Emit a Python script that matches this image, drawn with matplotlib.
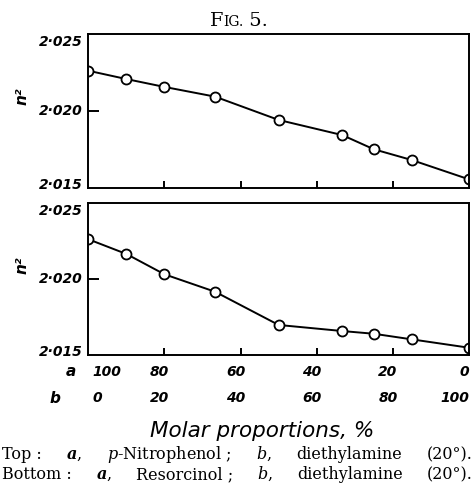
import matplotlib
matplotlib.use("Agg")
import matplotlib.pyplot as plt
from matplotlib.transforms import offset_copy

# ---- data ----
b_pct_top = [0, 10, 20, 33.3, 50, 66.7, 75, 85, 100]
n2_top = [2.02262, 2.02208, 2.02157, 2.02094, 2.01943, 2.01845, 2.01753, 2.01683, 2.01558]

b_pct_bottom = [0, 10, 20, 33.3, 50, 66.7, 75, 85, 100]
n2_bottom = [2.02263, 2.02166, 2.02032, 2.01917, 2.01698, 2.01658, 2.01640, 2.01603, 2.01548]

x_ticks_b = [0, 20, 40, 60, 80, 100]
a_labels = ['100', '80', '60', '40', '20', '0']
b_labels = ['0', '20', '40', '60', '80', '100']
y_tick_vals = [2.015, 2.020, 2.025]
y_tick_labels = ['2\u00b7015', '2\u00b7020', '2\u00b7025']

title_parts = ['F', 'IG.', ' 5.']
caption_top = ['Top :', r'$\mathbf{a}$,', r'$\mathit{p}$-Nitrophenol ;', r'$\mathit{b}$,',
               'diethylamine', '(20°).']
caption_bottom = ['Bottom :', r'$\mathbf{a}$,', 'Resorcinol ;', r'$\mathit{b}$,',
                  'diethylamine', '(20°).']
xlabel = 'Molar proportions, %'
ylabel = 'n\u00b2'

plt.rcParams['mathtext.fontset'] = 'custom'
plt.rcParams['mathtext.rm'] = 'DejaVu Serif'
plt.rcParams['mathtext.it'] = 'DejaVu Serif:italic'
plt.rcParams['mathtext.bf'] = 'DejaVu Serif:italic:bold'

W, H = 472, 486
fig = plt.figure(figsize=(W / 100, H / 100), dpi=100)


def fx(px):
    return px / W


def fy(py):
    return 1 - py / H


hand = dict(family='DejaVu Sans', weight='bold', style='italic')

panels = [
    (34.0, 188.3, b_pct_top, n2_top, 96),
    (203.3, 355.0, b_pct_bottom, n2_bottom, 265),
]
axes = []
for top, bot, xs, ys, ylab_y in panels:
    ax = fig.add_axes([fx(88.3), fy(bot), (469 - 88.3) / W, (bot - top) / H])
    ax.plot(xs, ys, '-', color='black', lw=1.4, marker='o', ms=7.2,
            mfc='white', mec='black', mew=1.3)
    ax.set_xlim(x_ticks_b[0], x_ticks_b[-1])
    ax.set_ylim(y_tick_vals[0], y_tick_vals[-1])
    for s in ax.spines.values():
        s.set_linewidth(1.4)
        s.set_zorder(3)
    ax.set_xticks(x_ticks_b[1:-1])
    ax.set_xticklabels([])
    ax.set_yticks(y_tick_vals[1:-1])
    ax.set_yticklabels([])
    ax.tick_params(axis='x', direction='in', length=5, width=1.4)
    ax.tick_params(axis='y', direction='in', length=8, width=1.4)
    for val, lab in zip(y_tick_vals, y_tick_labels):
        if val == y_tick_vals[-1]:
            dy = -8
        elif val == y_tick_vals[0]:
            dy = 3
        else:
            dy = 0
        tr = offset_copy(ax.get_yaxis_transform(), fig=fig, x=-6, y=dy, units='dots')
        ax.text(0, val, lab, transform=tr, ha='right', va='center', fontsize=10, **hand)
    fig.text(fx(22), fy(ylab_y), ylabel, rotation=90, ha='center', va='center',
             fontsize=11, **hand)
    axes.append(ax)

axb = axes[1]
for row, (labels, dy) in enumerate([(a_labels, -16.7), (b_labels, -43)]):
    for i, (xv, lab) in enumerate(zip(x_ticks_b, labels)):
        if i == 0:
            ha, dx = 'left', 4
        elif i == len(x_ticks_b) - 1:
            ha, dx = 'right', 0
        else:
            ha, dx = 'center', -5
        tr = offset_copy(axb.get_xaxis_transform(), fig=fig, x=dx, y=dy, units='dots')
        axb.text(xv, 0, lab, transform=tr, ha=ha, va='center', fontsize=10, **hand)

fig.text(fx(70.5), fy(371.7), 'a', ha='center', va='center', fontsize=11, **hand)
fig.text(fx(55), fy(398), 'b', ha='center', va='center', fontsize=11, **hand)

fig.text(fx(262), fy(431), xlabel, ha='center', va='center', fontsize=15.5,
         family='DejaVu Sans', style='italic')

fig.canvas.draw()
renderer = fig.canvas.get_renderer()

# caption: word groups justified across the line, like the wide original type
line_specs = [(caption_top, 2, 473, 459), (caption_bottom, 2, 473, 479)]
for words, x0, x1, base in line_specs:
    ts = [fig.text(0, fy(base), w_, ha='left', va='baseline', fontsize=11.5,
                   family='DejaVu Serif') for w_ in words]
    ws = [t.get_window_extent(renderer).width for t in ts]
    gap = (x1 - x0 - sum(ws)) / (len(ws) - 1)
    gap = max(gap, 4)
    x = x0
    for t, w_ in zip(ts, ws):
        t.set_x(fx(x))
        x += w_ + gap

# title in small capitals
sizes = [14, 10, 14]
pieces = []
for p, s in zip(title_parts, sizes):
    t = fig.text(0, fy(26), p, ha='left', va='baseline', fontsize=s, family='DejaVu Serif')
    pieces.append(t)
widths = [t.get_window_extent(renderer).width for t in pieces]
x = 239 - sum(widths) / 2
for t, w in zip(pieces, widths):
    t.set_x(fx(x))
    x += w

fig.savefig('out.png', dpi=100)
